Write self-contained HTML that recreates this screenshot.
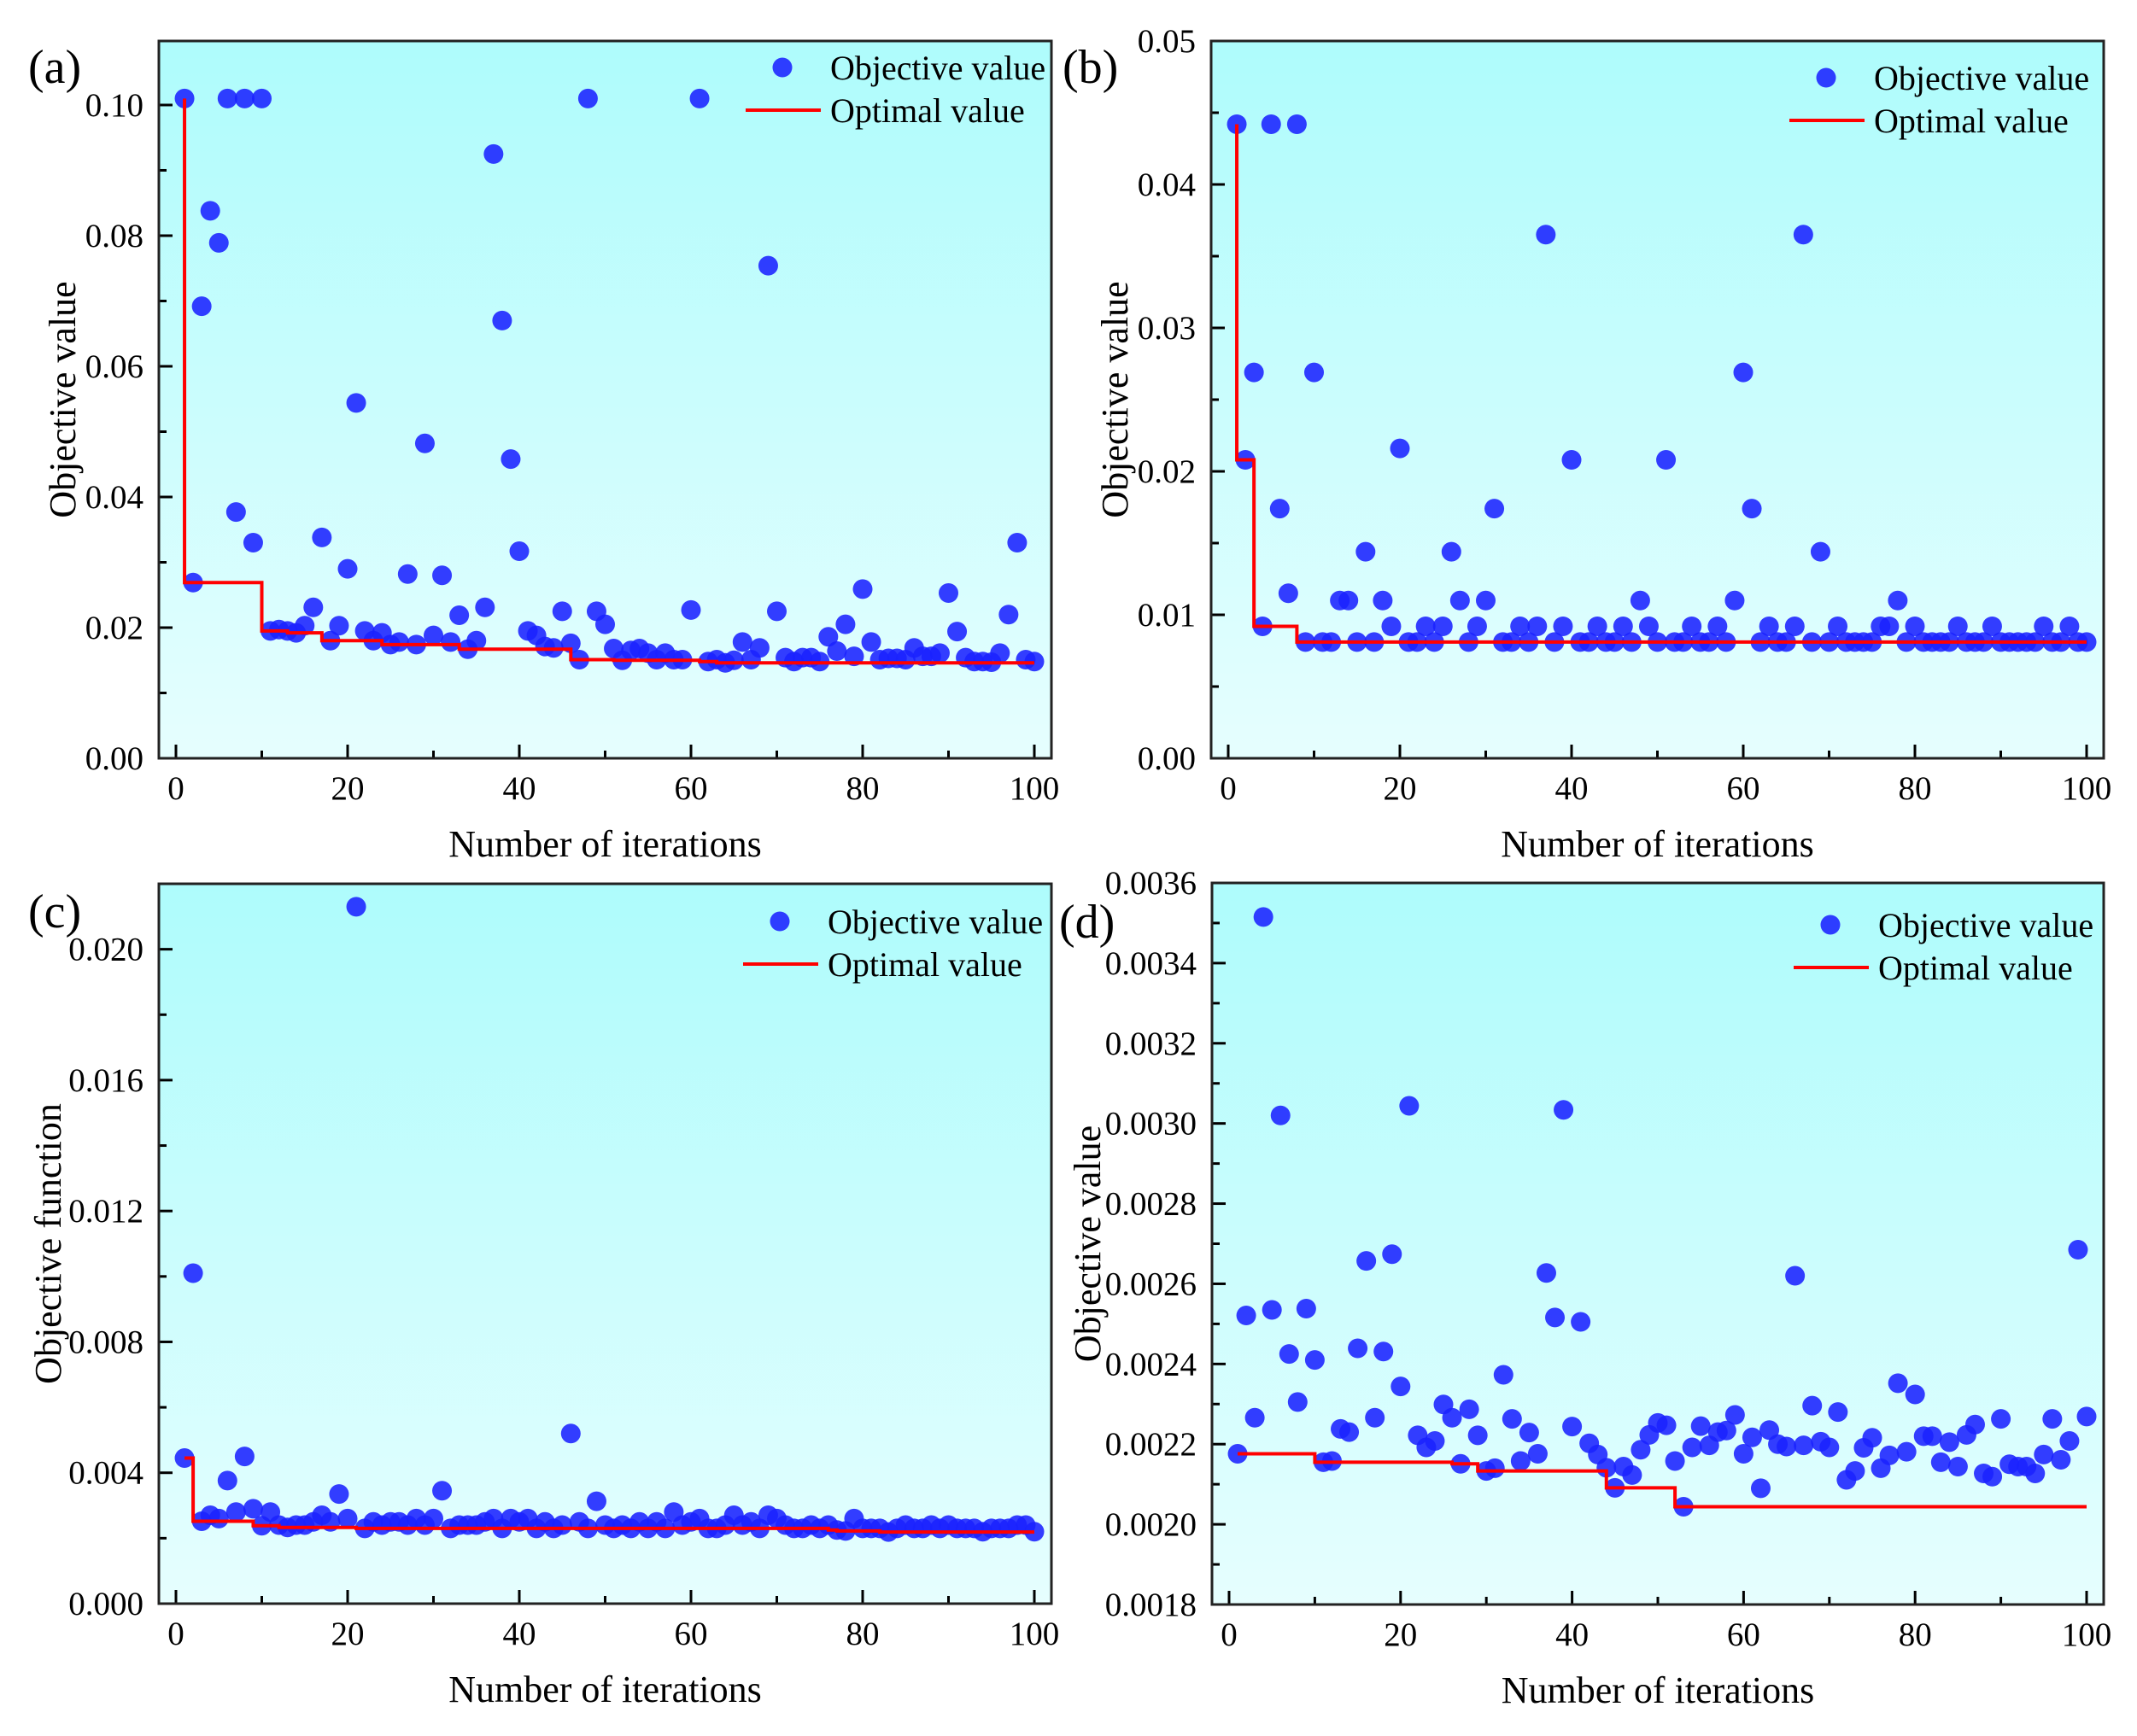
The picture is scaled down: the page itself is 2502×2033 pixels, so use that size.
<!DOCTYPE html>
<html><head><meta charset="utf-8"><title>Optimization convergence</title>
<style>
html,body{margin:0;padding:0;background:#fff;}
svg{display:block;font-family:"Liberation Serif","Times New Roman",serif;}
</style></head>
<body>
<svg id="fig" width="2502" height="2033" viewBox="0 0 2502 2033" xmlns="http://www.w3.org/2000/svg">
<defs>
<linearGradient id="bg" x1="0" y1="0" x2="0" y2="1">
<stop offset="0" stop-color="#aefcfc"/>
<stop offset="1" stop-color="#e6fefe"/>
</linearGradient>
</defs>
</svg>
<script>
const iterations = [];
for (let i = 1; i <= 100; i++) iterations.push(i);

const objA = [0.101,0.0269,0.0692,0.0838,0.0789,0.101,0.0377,0.101,0.033,0.101,
0.0195,0.0197,0.0195,0.0192,0.0203,0.0231,0.0338,0.018,0.0203,0.029,
0.0544,0.0195,0.018,0.0192,0.0174,0.0178,0.0282,0.0174,0.0482,0.0188,
0.028,0.0178,0.0219,0.0167,0.018,0.0231,0.0925,0.067,0.0458,0.0317,
0.0195,0.0188,0.0171,0.0169,0.0225,0.0176,0.0151,0.101,0.0225,0.0205,
0.0168,0.015,0.0165,0.0168,0.0161,0.0151,0.0161,0.0151,0.0151,0.0227,
0.101,0.0148,0.0151,0.0146,0.015,0.0178,0.0151,0.0169,0.0754,0.0225,
0.0154,0.0148,0.0154,0.0154,0.0148,0.0186,0.0164,0.0205,0.0156,0.0259,
0.0178,0.0151,0.0153,0.0153,0.0151,0.0169,0.0156,0.0156,0.0161,0.0253,
0.0194,0.0154,0.0148,0.0148,0.0147,0.0161,0.022,0.033,0.0151,0.0148];

const objB = [0.0442,0.0208,0.0269,0.0092,0.0442,0.0174,0.0115,0.0442,0.0081,0.0269,
0.0081,0.0081,0.011,0.011,0.0081,0.0144,0.0081,0.011,0.0092,0.0216,
0.0081,0.0081,0.0092,0.0081,0.0092,0.0144,0.011,0.0081,0.0092,0.011,
0.0174,0.0081,0.0081,0.0092,0.0081,0.0092,0.0365,0.0081,0.0092,0.0208,
0.0081,0.0081,0.0092,0.0081,0.0081,0.0092,0.0081,0.011,0.0092,0.0081,
0.0208,0.0081,0.0081,0.0092,0.0081,0.0081,0.0092,0.0081,0.011,0.0269,
0.0174,0.0081,0.0092,0.0081,0.0081,0.0092,0.0365,0.0081,0.0144,0.0081,
0.0092,0.0081,0.0081,0.0081,0.0081,0.0092,0.0092,0.011,0.0081,0.0092,
0.0081,0.0081,0.0081,0.0081,0.0092,0.0081,0.0081,0.0081,0.0092,0.0081,
0.0081,0.0081,0.0081,0.0081,0.0092,0.0081,0.0081,0.0092,0.0081,0.0081];

const objC = [0.00445,0.0101,0.00252,0.0027,0.0026,0.00376,0.0028,0.0045,0.0029,0.00238,
0.0028,0.0024,0.00233,0.0024,0.0024,0.0025,0.0027,0.0025,0.00335,0.0026,
0.0213,0.0023,0.0025,0.0024,0.0025,0.0025,0.0024,0.0026,0.0024,0.0026,
0.00345,0.0023,0.0024,0.0024,0.0024,0.0025,0.0026,0.0023,0.0026,0.0025,
0.0026,0.0023,0.0025,0.0023,0.0024,0.0052,0.0025,0.0023,0.00313,0.0024,
0.0023,0.0024,0.0023,0.0025,0.0023,0.0025,0.0023,0.0028,0.0024,0.0025,
0.0026,0.0023,0.0023,0.0024,0.0027,0.0024,0.0025,0.0023,0.0027,0.0026,
0.0024,0.0023,0.0023,0.0024,0.0023,0.0024,0.00225,0.00222,0.0026,0.0023,
0.0023,0.0023,0.00219,0.0023,0.0024,0.0023,0.0023,0.0024,0.0023,0.0024,
0.0023,0.0023,0.0023,0.0022,0.0023,0.0023,0.0023,0.0024,0.0024,0.0022];

const objD = [0.002176,0.002521,0.002266,0.003515,0.002535,0.00302,0.002425,0.002305,0.002538,0.00241,
0.002155,0.002158,0.002238,0.00223,0.002439,0.002657,0.002266,0.002431,0.002674,0.002344,
0.003044,0.002222,0.002192,0.002208,0.002299,0.002266,0.002151,0.002287,0.002222,0.002133,
0.00214,0.002373,0.002263,0.002158,0.002229,0.002176,0.002627,0.002516,0.003034,0.002244,
0.002505,0.002202,0.002174,0.002141,0.002091,0.002144,0.002123,0.002186,0.002223,0.002253,
0.002247,0.002158,0.002044,0.002192,0.002245,0.002197,0.00223,0.002234,0.002273,0.002176,
0.002217,0.00209,0.002235,0.0022,0.002194,0.00262,0.002197,0.002296,0.002206,0.002192,
0.00228,0.002111,0.002133,0.002191,0.002216,0.00214,0.002172,0.002352,0.002181,0.002324,
0.00222,0.00222,0.002155,0.002205,0.002144,0.002223,0.002249,0.002127,0.002119,0.002263,
0.00215,0.002144,0.002144,0.002127,0.002174,0.002263,0.002161,0.002208,0.002685,0.002269];

const xTicks = [0,20,40,60,80,100];
const xMinor = [10,30,50,70,90];
const yTicksA = [0,0.02,0.04,0.06,0.08,0.10];
const yLabelsA = ["0.00","0.02","0.04","0.06","0.08","0.10"];
const yTicksB = [0,0.01,0.02,0.03,0.04,0.05];
const yLabelsB = ["0.00","0.01","0.02","0.03","0.04","0.05"];
const yTicksC = [0,0.004,0.008,0.012,0.016,0.020];
const yLabelsC = ["0.000","0.004","0.008","0.012","0.016","0.020"];
const yTicksD = [0.0018,0.0020,0.0022,0.0024,0.0026,0.0028,0.0030,0.0032,0.0034,0.0036];
const yLabelsD = ["0.0018","0.0020","0.0022","0.0024","0.0026","0.0028","0.0030","0.0032","0.0034","0.0036"];

const NS = "http://www.w3.org/2000/svg";
const svg = document.getElementById("fig");
function mk(tag, attrs, parent) {
  const e = document.createElementNS(NS, tag);
  for (const k in attrs) e.setAttribute(k, attrs[k]);
  (parent || svg).appendChild(e);
  return e;
}

function panel(cfg) {
  const g = mk("g", {});
  
  
  const L = cfg.L, R = cfg.R, T = cfg.T, B = cfg.B;
  const x0 = L + 20, x1 = R - 20;
  const xs = v => x0 + (v - 0) / 100 * (x1 - x0);
  const ys = v => B - (v - cfg.ymin) / (cfg.ymax - cfg.ymin) * (B - T);

  const bg = mk("rect", {x: L, y: T, width: R - L, height: B - T, fill: "url(#bg)"}, g);
  
  

  xTicks.forEach(v => {
    const t = mk("line", {x1: xs(v), x2: xs(v), y1: B, y2: B - 16, stroke: "#000", "stroke-width": 3}, g);
    
    
    const lb = mk("text", {x: xs(v), y: B + 48, "text-anchor": "middle", "font-size": 39, fill: "#000"}, g);
    lb.textContent = String(v);
    
    
  });
  xMinor.forEach(v => {
    const t = mk("line", {x1: xs(v), x2: xs(v), y1: B, y2: B - 9, stroke: "#000", "stroke-width": 3}, g);
    
    
  });
  cfg.yTicks.forEach((v, i) => {
    const t = mk("line", {x1: L, x2: L + 16, y1: ys(v), y2: ys(v), stroke: "#000", "stroke-width": 3}, g);
    
    
    const lb = mk("text", {x: L - 18, y: ys(v) + 13, "text-anchor": "end", "font-size": 39, fill: "#000"}, g);
    lb.textContent = cfg.yLabels[i];
    
    
    if (i < cfg.yTicks.length - 1) {
      const mv = (v + cfg.yTicks[i + 1]) / 2;
      const m = mk("line", {x1: L, x2: L + 9, y1: ys(mv), y2: ys(mv), stroke: "#000", "stroke-width": 3}, g);
      
      
    }
  });
  const lastV = cfg.yTicks[cfg.yTicks.length - 1];
  const stepV = cfg.yTicks[1] - cfg.yTicks[0];
  if (lastV + stepV / 2 < cfg.ymax) {
    const m = mk("line", {x1: L, x2: L + 9, y1: ys(lastV + stepV / 2), y2: ys(lastV + stepV / 2), stroke: "#000", "stroke-width": 3}, g);
    
    
  }

  const pts = mk("g", {}, g);
  
  
  cfg.data.forEach((v, i) => {
    const c = mk("circle", {cx: xs(iterations[i]), cy: ys(v), r: 11.5, fill: "#1a22ff", "fill-opacity": 0.88}, pts);
    
    
  });

  const mins = [];
  let m = Infinity;
  cfg.data.forEach(v => { m = Math.min(m, v); mins.push(m); });
  let d = "M" + xs(iterations[0]) + "," + ys(mins[0]);
  for (let i = 0; i < mins.length - 1; i++) {
    d += " L" + xs(iterations[i]) + "," + ys(mins[i + 1]);
    d += " L" + xs(iterations[i + 1]) + "," + ys(mins[i + 1]);
  }
  const line = mk("path", {d: d, fill: "none", stroke: "#ff0000", "stroke-width": 4}, g);
  
  

  const fr = mk("rect", {x: L, y: T, width: R - L, height: B - T, fill: "none", stroke: "#222", "stroke-width": 3}, g);
  
  

  const xt = mk("text", {x: (L + R) / 2, y: B + 115, "text-anchor": "middle", "font-size": 44, fill: "#000"}, g);
  xt.textContent = "Number of iterations";
  
  
  const yt = mk("text", {x: 0, y: 0, "text-anchor": "middle", "font-size": 44, fill: "#000",
    transform: "translate(" + (cfg.ytx + 15) + "," + ((T + B) / 2) + ") rotate(-90)"}, g);
  yt.textContent = cfg.ytitle;
  
  

  const pl = mk("text", {x: cfg.plx, y: cfg.ply, "font-size": 56, fill: "#000"}, g);
  pl.textContent = "(" + cfg.id + ")";
  
  

  const lg = mk("g", {}, g);
  
  
  const lm = mk("circle", {cx: cfg.lgx + 43, cy: cfg.lgy, r: 11.5, fill: "#1a22ff", "fill-opacity": 0.88}, lg);
  
  
  const t1 = mk("text", {x: cfg.lgx + 99, y: cfg.lgy + 14, "font-size": 40, fill: "#000"}, lg);
  t1.textContent = "Objective value";
  
  
  const ll = mk("line", {x1: cfg.lgx, x2: cfg.lgx + 88, y1: cfg.lgy + 50, y2: cfg.lgy + 50, stroke: "#ff0000", "stroke-width": 4}, lg);
  
  
  const t2 = mk("text", {x: cfg.lgx + 99, y: cfg.lgy + 64, "font-size": 40, fill: "#000"}, lg);
  t2.textContent = "Optimal value";
  
  
}

panel({id: "a", L: 186, R: 1231, T: 48, B: 888, ymin: 0, ymax: 0.1098, yTicks: yTicksA, yLabels: yLabelsA,
  data: objA, ytitle: "Objective value", ytx: 73, plx: 33, ply: 97, lgx: 873, lgy: 79});
panel({id: "b", L: 1418, R: 2463, T: 48, B: 888, ymin: 0, ymax: 0.05, yTicks: yTicksB, yLabels: yLabelsB,
  data: objB, ytitle: "Objective value", ytx: 1305, plx: 1244, ply: 97, lgx: 2095, lgy: 91});
panel({id: "c", L: 186, R: 1231, T: 1035, B: 1878, ymin: 0, ymax: 0.022, yTicks: yTicksC, yLabels: yLabelsC,
  data: objC, ytitle: "Objective function", ytx: 56, plx: 33, ply: 1086, lgx: 870, lgy: 1079});
panel({id: "d", L: 1419, R: 2463, T: 1034, B: 1879, ymin: 0.0018, ymax: 0.0036, yTicks: yTicksD, yLabels: yLabelsD,
  data: objD, ytitle: "Objective value", ytx: 1273, plx: 1240, ply: 1098, lgx: 2100, lgy: 1083});
</script>
</body></html>
